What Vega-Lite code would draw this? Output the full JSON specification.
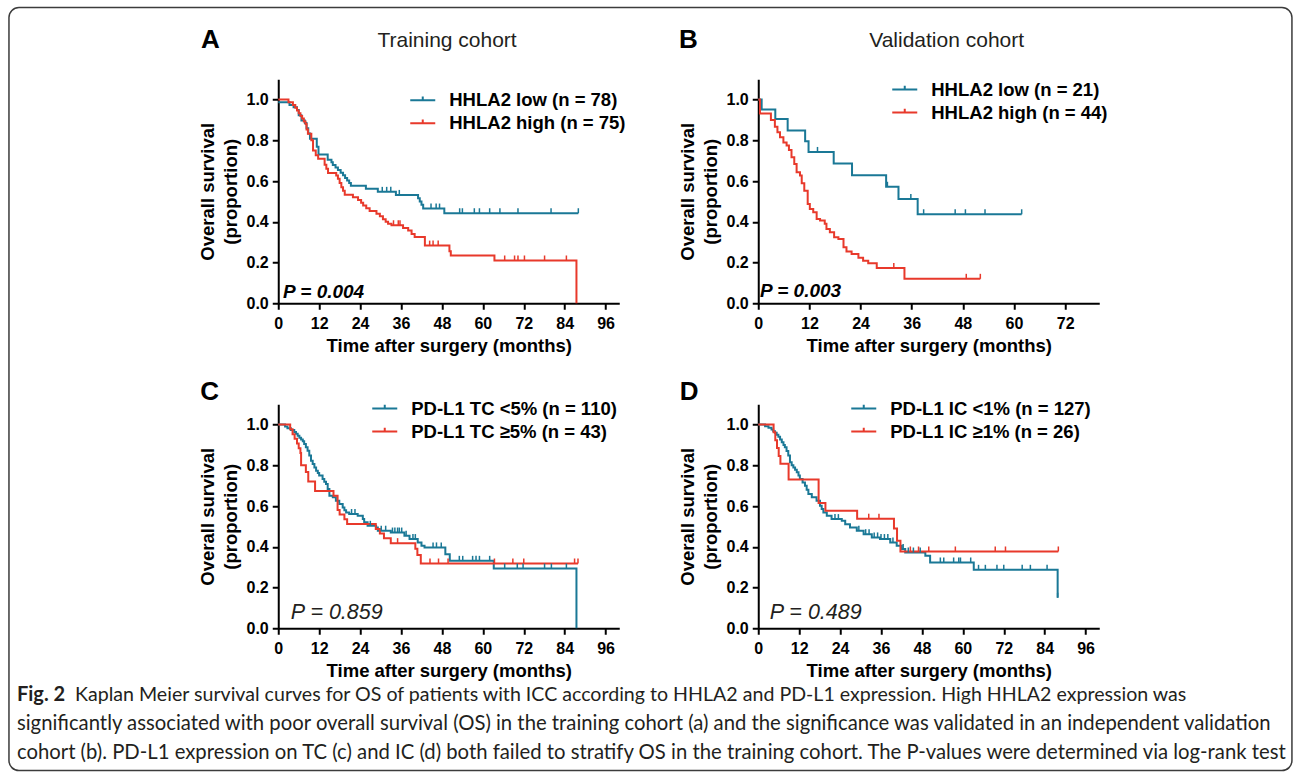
{
  "$schema": "https://vega.github.io/schema/vega-lite/v6.json",
  "background": "white",
  "padding": {"left": 7.25, "top": 6.25, "right": 6.25, "bottom": 7.25},
  "config": {
    "view": {"stroke": null},
    "font": "Liberation Sans",
    "axis": {
      "domainColor": "black", "domainWidth": 2, "tickColor": "black", "tickWidth": 2, "tickSize": 6,
      "labelFont": "Liberation Sans", "labelFontSize": 16, "labelFontWeight": "bold", "labelColor": "black",
      "labelFlush": false, "labelOverlap": false,
      "titleFont": "Liberation Sans", "titleFontSize": 18.5, "titleFontWeight": "bold", "titleColor": "black",
      "grid": false
    },
    "axisX": {"labelPadding": 6, "titlePadding": 5},
    "axisY": {"labelPadding": 4, "titlePadding": 6, "titleLineHeight": 23},
    "legend": {
      "padding": 0, "rowPadding": 0, "labelFont": "Liberation Sans", "labelFontSize": 18.5, "labelFontWeight": "bold",
      "labelColor": "black", "labelOffset": 13, "labelLimit": 600,
      "symbolType": "M-1,0H1M0,0V-0.3", "symbolSize": 625, "symbolStrokeWidth": 2, "symbolFillColor": "transparent"
    }
  },
  "datasets": {
    "A_curve": [
      {"g":"HHLA2 low (n = 78)","t":0,"s":0.987},{"g":"HHLA2 low (n = 78)","t":3.3,"s":0.974},{"g":"HHLA2 low (n = 78)","t":4.5,"s":0.962},{"g":"HHLA2 low (n = 78)","t":5.5,"s":0.949},{"g":"HHLA2 low (n = 78)","t":6.0,"s":0.923},{"g":"HHLA2 low (n = 78)","t":6.8,"s":0.897},{"g":"HHLA2 low (n = 78)","t":7.8,"s":0.885},{"g":"HHLA2 low (n = 78)","t":8.3,"s":0.859},{"g":"HHLA2 low (n = 78)","t":8.8,"s":0.833},{"g":"HHLA2 low (n = 78)","t":9.3,"s":0.808},{"g":"HHLA2 low (n = 78)","t":11.3,"s":0.769},{"g":"HHLA2 low (n = 78)","t":11.8,"s":0.731},{"g":"HHLA2 low (n = 78)","t":14.5,"s":0.705},{"g":"HHLA2 low (n = 78)","t":15.6,"s":0.692},{"g":"HHLA2 low (n = 78)","t":16.0,"s":0.679},{"g":"HHLA2 low (n = 78)","t":16.8,"s":0.667},{"g":"HHLA2 low (n = 78)","t":17.5,"s":0.654},{"g":"HHLA2 low (n = 78)","t":18.3,"s":0.641},{"g":"HHLA2 low (n = 78)","t":19.0,"s":0.628},{"g":"HHLA2 low (n = 78)","t":19.6,"s":0.615},{"g":"HHLA2 low (n = 78)","t":20.2,"s":0.603},{"g":"HHLA2 low (n = 78)","t":20.8,"s":0.59},{"g":"HHLA2 low (n = 78)","t":21.3,"s":0.577},{"g":"HHLA2 low (n = 78)","t":25.7,"s":0.562},{"g":"HHLA2 low (n = 78)","t":29.2,"s":0.547},{"g":"HHLA2 low (n = 78)","t":34.5,"s":0.532},{"g":"HHLA2 low (n = 78)","t":41.0,"s":0.516},{"g":"HHLA2 low (n = 78)","t":41.5,"s":0.5},{"g":"HHLA2 low (n = 78)","t":42.0,"s":0.484},{"g":"HHLA2 low (n = 78)","t":42.5,"s":0.465},{"g":"HHLA2 low (n = 78)","t":48.7,"s":0.442},{"g":"HHLA2 low (n = 78)","t":88.0,"s":0.442},
      {"g":"HHLA2 high (n = 75)","t":0,"s":1.0},{"g":"HHLA2 high (n = 75)","t":3.0,"s":0.987},{"g":"HHLA2 high (n = 75)","t":4.3,"s":0.973},{"g":"HHLA2 high (n = 75)","t":5.0,"s":0.96},{"g":"HHLA2 high (n = 75)","t":5.5,"s":0.947},{"g":"HHLA2 high (n = 75)","t":6.0,"s":0.933},{"g":"HHLA2 high (n = 75)","t":6.5,"s":0.92},{"g":"HHLA2 high (n = 75)","t":7.0,"s":0.907},{"g":"HHLA2 high (n = 75)","t":7.5,"s":0.893},{"g":"HHLA2 high (n = 75)","t":8.0,"s":0.88},{"g":"HHLA2 high (n = 75)","t":8.3,"s":0.853},{"g":"HHLA2 high (n = 75)","t":8.7,"s":0.832},{"g":"HHLA2 high (n = 75)","t":9.7,"s":0.8},{"g":"HHLA2 high (n = 75)","t":10.2,"s":0.75},{"g":"HHLA2 high (n = 75)","t":11.0,"s":0.727},{"g":"HHLA2 high (n = 75)","t":11.7,"s":0.709},{"g":"HHLA2 high (n = 75)","t":13.6,"s":0.68},{"g":"HHLA2 high (n = 75)","t":14.1,"s":0.66},{"g":"HHLA2 high (n = 75)","t":14.6,"s":0.64},{"g":"HHLA2 high (n = 75)","t":17.0,"s":0.627},{"g":"HHLA2 high (n = 75)","t":17.5,"s":0.611},{"g":"HHLA2 high (n = 75)","t":18.0,"s":0.59},{"g":"HHLA2 high (n = 75)","t":18.5,"s":0.57},{"g":"HHLA2 high (n = 75)","t":19.0,"s":0.553},{"g":"HHLA2 high (n = 75)","t":19.5,"s":0.533},{"g":"HHLA2 high (n = 75)","t":21.9,"s":0.52},{"g":"HHLA2 high (n = 75)","t":23.4,"s":0.507},{"g":"HHLA2 high (n = 75)","t":24.3,"s":0.493},{"g":"HHLA2 high (n = 75)","t":24.9,"s":0.48},{"g":"HHLA2 high (n = 75)","t":25.8,"s":0.467},{"g":"HHLA2 high (n = 75)","t":26.8,"s":0.453},{"g":"HHLA2 high (n = 75)","t":28.8,"s":0.44},{"g":"HHLA2 high (n = 75)","t":29.8,"s":0.427},{"g":"HHLA2 high (n = 75)","t":30.7,"s":0.413},{"g":"HHLA2 high (n = 75)","t":31.5,"s":0.4},{"g":"HHLA2 high (n = 75)","t":32.2,"s":0.39},{"g":"HHLA2 high (n = 75)","t":33.2,"s":0.383},{"g":"HHLA2 high (n = 75)","t":36.6,"s":0.37},{"g":"HHLA2 high (n = 75)","t":38.1,"s":0.357},{"g":"HHLA2 high (n = 75)","t":39.1,"s":0.34},{"g":"HHLA2 high (n = 75)","t":40.0,"s":0.325},{"g":"HHLA2 high (n = 75)","t":43.0,"s":0.283},{"g":"HHLA2 high (n = 75)","t":50.2,"s":0.255},{"g":"HHLA2 high (n = 75)","t":50.6,"s":0.234},{"g":"HHLA2 high (n = 75)","t":63.4,"s":0.21},{"g":"HHLA2 high (n = 75)","t":87.4,"s":0.21},{"g":"HHLA2 high (n = 75)","t":87.45,"s":0}
    ],
    "A_cens": [
      {"g":"HHLA2 low (n = 78)","t":30.5,"s":0.547},{"g":"HHLA2 low (n = 78)","t":31.8,"s":0.547},{"g":"HHLA2 low (n = 78)","t":33.0,"s":0.547},{"g":"HHLA2 low (n = 78)","t":35.5,"s":0.532},{"g":"HHLA2 low (n = 78)","t":44.8,"s":0.465},{"g":"HHLA2 low (n = 78)","t":46.3,"s":0.465},{"g":"HHLA2 low (n = 78)","t":47.3,"s":0.465},{"g":"HHLA2 low (n = 78)","t":53.2,"s":0.442},{"g":"HHLA2 low (n = 78)","t":54.0,"s":0.442},{"g":"HHLA2 low (n = 78)","t":57.5,"s":0.442},{"g":"HHLA2 low (n = 78)","t":59.0,"s":0.442},{"g":"HHLA2 low (n = 78)","t":62.0,"s":0.442},{"g":"HHLA2 low (n = 78)","t":65.0,"s":0.442},{"g":"HHLA2 low (n = 78)","t":70.3,"s":0.442},{"g":"HHLA2 low (n = 78)","t":80.0,"s":0.442},{"g":"HHLA2 low (n = 78)","t":88.0,"s":0.442},
      {"g":"HHLA2 high (n = 75)","t":33.8,"s":0.383},{"g":"HHLA2 high (n = 75)","t":35.2,"s":0.383},{"g":"HHLA2 high (n = 75)","t":35.7,"s":0.383},{"g":"HHLA2 high (n = 75)","t":44.4,"s":0.283},{"g":"HHLA2 high (n = 75)","t":45.4,"s":0.283},{"g":"HHLA2 high (n = 75)","t":46.9,"s":0.283},{"g":"HHLA2 high (n = 75)","t":66.4,"s":0.21},{"g":"HHLA2 high (n = 75)","t":69.3,"s":0.21},{"g":"HHLA2 high (n = 75)","t":70.3,"s":0.21},{"g":"HHLA2 high (n = 75)","t":72.2,"s":0.21},{"g":"HHLA2 high (n = 75)","t":78.1,"s":0.21},{"g":"HHLA2 high (n = 75)","t":84.5,"s":0.21}
    ],
    "B_curve": [
      {"g":"HHLA2 low (n = 21)","t":0,"s":1.0},{"g":"HHLA2 low (n = 21)","t":0.8,"s":0.952},{"g":"HHLA2 low (n = 21)","t":4.0,"s":0.905},{"g":"HHLA2 low (n = 21)","t":6.9,"s":0.848},{"g":"HHLA2 low (n = 21)","t":11.0,"s":0.795},{"g":"HHLA2 low (n = 21)","t":11.8,"s":0.743},{"g":"HHLA2 low (n = 21)","t":17.7,"s":0.686},{"g":"HHLA2 low (n = 21)","t":22.0,"s":0.628},{"g":"HHLA2 low (n = 21)","t":30.0,"s":0.572},{"g":"HHLA2 low (n = 21)","t":32.9,"s":0.512},{"g":"HHLA2 low (n = 21)","t":37.4,"s":0.437},{"g":"HHLA2 low (n = 21)","t":61.8,"s":0.437},
      {"g":"HHLA2 high (n = 44)","t":0,"s":1.0},{"g":"HHLA2 high (n = 44)","t":0.4,"s":0.932},{"g":"HHLA2 high (n = 44)","t":2.97,"s":0.9},{"g":"HHLA2 high (n = 44)","t":3.9,"s":0.867},{"g":"HHLA2 high (n = 44)","t":4.5,"s":0.84},{"g":"HHLA2 high (n = 44)","t":5.1,"s":0.815},{"g":"HHLA2 high (n = 44)","t":5.9,"s":0.79},{"g":"HHLA2 high (n = 44)","t":6.65,"s":0.775},{"g":"HHLA2 high (n = 44)","t":7.2,"s":0.753},{"g":"HHLA2 high (n = 44)","t":7.8,"s":0.717},{"g":"HHLA2 high (n = 44)","t":8.45,"s":0.684},{"g":"HHLA2 high (n = 44)","t":9.0,"s":0.643},{"g":"HHLA2 high (n = 44)","t":9.8,"s":0.627},{"g":"HHLA2 high (n = 44)","t":10.2,"s":0.589},{"g":"HHLA2 high (n = 44)","t":10.8,"s":0.553},{"g":"HHLA2 high (n = 44)","t":11.6,"s":0.488},{"g":"HHLA2 high (n = 44)","t":12.1,"s":0.463},{"g":"HHLA2 high (n = 44)","t":12.9,"s":0.447},{"g":"HHLA2 high (n = 44)","t":13.7,"s":0.414},{"g":"HHLA2 high (n = 44)","t":14.5,"s":0.406},{"g":"HHLA2 high (n = 44)","t":15.6,"s":0.39},{"g":"HHLA2 high (n = 44)","t":16.0,"s":0.365},{"g":"HHLA2 high (n = 44)","t":16.8,"s":0.349},{"g":"HHLA2 high (n = 44)","t":17.8,"s":0.324},{"g":"HHLA2 high (n = 44)","t":18.8,"s":0.316},{"g":"HHLA2 high (n = 44)","t":20.0,"s":0.275},{"g":"HHLA2 high (n = 44)","t":20.7,"s":0.254},{"g":"HHLA2 high (n = 44)","t":21.9,"s":0.242},{"g":"HHLA2 high (n = 44)","t":23.5,"s":0.223},{"g":"HHLA2 high (n = 44)","t":24.6,"s":0.209},{"g":"HHLA2 high (n = 44)","t":25.8,"s":0.196},{"g":"HHLA2 high (n = 44)","t":27.8,"s":0.173},{"g":"HHLA2 high (n = 44)","t":34.3,"s":0.12},{"g":"HHLA2 high (n = 44)","t":52.1,"s":0.12}
    ],
    "B_cens": [
      {"g":"HHLA2 low (n = 21)","t":13.9,"s":0.743},{"g":"HHLA2 low (n = 21)","t":30.3,"s":0.572},{"g":"HHLA2 low (n = 21)","t":35.8,"s":0.512},{"g":"HHLA2 low (n = 21)","t":38.8,"s":0.437},{"g":"HHLA2 low (n = 21)","t":46.2,"s":0.437},{"g":"HHLA2 low (n = 21)","t":48.6,"s":0.437},{"g":"HHLA2 low (n = 21)","t":53.2,"s":0.437},{"g":"HHLA2 low (n = 21)","t":61.8,"s":0.437},
      {"g":"HHLA2 high (n = 44)","t":31.8,"s":0.173},{"g":"HHLA2 high (n = 44)","t":48.8,"s":0.12},{"g":"HHLA2 high (n = 44)","t":52.1,"s":0.12}
    ],
    "C_curve": [
      {"g":"PD-L1 TC <5% (n = 110)","t":0,"s":1.0},{"g":"PD-L1 TC <5% (n = 110)","t":2.0,"s":0.991},{"g":"PD-L1 TC <5% (n = 110)","t":2.7,"s":0.982},{"g":"PD-L1 TC <5% (n = 110)","t":3.7,"s":0.973},{"g":"PD-L1 TC <5% (n = 110)","t":4.7,"s":0.964},{"g":"PD-L1 TC <5% (n = 110)","t":5.2,"s":0.955},{"g":"PD-L1 TC <5% (n = 110)","t":5.7,"s":0.945},{"g":"PD-L1 TC <5% (n = 110)","t":6.2,"s":0.936},{"g":"PD-L1 TC <5% (n = 110)","t":6.7,"s":0.927},{"g":"PD-L1 TC <5% (n = 110)","t":7.2,"s":0.918},{"g":"PD-L1 TC <5% (n = 110)","t":7.6,"s":0.905},{"g":"PD-L1 TC <5% (n = 110)","t":8.1,"s":0.889},{"g":"PD-L1 TC <5% (n = 110)","t":8.6,"s":0.872},{"g":"PD-L1 TC <5% (n = 110)","t":9.1,"s":0.848},{"g":"PD-L1 TC <5% (n = 110)","t":9.6,"s":0.823},{"g":"PD-L1 TC <5% (n = 110)","t":10.1,"s":0.807},{"g":"PD-L1 TC <5% (n = 110)","t":10.6,"s":0.79},{"g":"PD-L1 TC <5% (n = 110)","t":11.1,"s":0.774},{"g":"PD-L1 TC <5% (n = 110)","t":11.6,"s":0.762},{"g":"PD-L1 TC <5% (n = 110)","t":12.0,"s":0.75},{"g":"PD-L1 TC <5% (n = 110)","t":13.0,"s":0.733},{"g":"PD-L1 TC <5% (n = 110)","t":13.5,"s":0.72},{"g":"PD-L1 TC <5% (n = 110)","t":14.0,"s":0.708},{"g":"PD-L1 TC <5% (n = 110)","t":14.5,"s":0.684},{"g":"PD-L1 TC <5% (n = 110)","t":15.0,"s":0.651},{"g":"PD-L1 TC <5% (n = 110)","t":16.0,"s":0.643},{"g":"PD-L1 TC <5% (n = 110)","t":16.9,"s":0.626},{"g":"PD-L1 TC <5% (n = 110)","t":17.9,"s":0.61},{"g":"PD-L1 TC <5% (n = 110)","t":18.9,"s":0.593},{"g":"PD-L1 TC <5% (n = 110)","t":19.4,"s":0.58},{"g":"PD-L1 TC <5% (n = 110)","t":19.9,"s":0.569},{"g":"PD-L1 TC <5% (n = 110)","t":20.8,"s":0.561},{"g":"PD-L1 TC <5% (n = 110)","t":23.3,"s":0.552},{"g":"PD-L1 TC <5% (n = 110)","t":24.8,"s":0.536},{"g":"PD-L1 TC <5% (n = 110)","t":25.2,"s":0.52},{"g":"PD-L1 TC <5% (n = 110)","t":26.2,"s":0.503},{"g":"PD-L1 TC <5% (n = 110)","t":28.7,"s":0.495},{"g":"PD-L1 TC <5% (n = 110)","t":29.2,"s":0.479},{"g":"PD-L1 TC <5% (n = 110)","t":33.0,"s":0.47},{"g":"PD-L1 TC <5% (n = 110)","t":37.0,"s":0.454},{"g":"PD-L1 TC <5% (n = 110)","t":38.5,"s":0.438},{"g":"PD-L1 TC <5% (n = 110)","t":40.9,"s":0.421},{"g":"PD-L1 TC <5% (n = 110)","t":42.0,"s":0.405},{"g":"PD-L1 TC <5% (n = 110)","t":42.9,"s":0.397},{"g":"PD-L1 TC <5% (n = 110)","t":49.0,"s":0.364},{"g":"PD-L1 TC <5% (n = 110)","t":50.3,"s":0.331},{"g":"PD-L1 TC <5% (n = 110)","t":63.2,"s":0.293},{"g":"PD-L1 TC <5% (n = 110)","t":87.4,"s":0.293},{"g":"PD-L1 TC <5% (n = 110)","t":87.45,"s":0},
      {"g":"PD-L1 TC ≥5% (n = 43)","t":0,"s":1.0},{"g":"PD-L1 TC ≥5% (n = 43)","t":3.5,"s":0.977},{"g":"PD-L1 TC ≥5% (n = 43)","t":4.2,"s":0.953},{"g":"PD-L1 TC ≥5% (n = 43)","t":4.8,"s":0.93},{"g":"PD-L1 TC ≥5% (n = 43)","t":5.5,"s":0.907},{"g":"PD-L1 TC ≥5% (n = 43)","t":6.0,"s":0.884},{"g":"PD-L1 TC ≥5% (n = 43)","t":6.5,"s":0.86},{"g":"PD-L1 TC ≥5% (n = 43)","t":6.7,"s":0.8},{"g":"PD-L1 TC ≥5% (n = 43)","t":8.1,"s":0.767},{"g":"PD-L1 TC ≥5% (n = 43)","t":8.8,"s":0.721},{"g":"PD-L1 TC ≥5% (n = 43)","t":10.8,"s":0.674},{"g":"PD-L1 TC ≥5% (n = 43)","t":16.2,"s":0.651},{"g":"PD-L1 TC ≥5% (n = 43)","t":17.4,"s":0.581},{"g":"PD-L1 TC ≥5% (n = 43)","t":18.0,"s":0.558},{"g":"PD-L1 TC ≥5% (n = 43)","t":19.4,"s":0.535},{"g":"PD-L1 TC ≥5% (n = 43)","t":20.2,"s":0.512},{"g":"PD-L1 TC ≥5% (n = 43)","t":28.6,"s":0.488},{"g":"PD-L1 TC ≥5% (n = 43)","t":29.8,"s":0.465},{"g":"PD-L1 TC ≥5% (n = 43)","t":31.0,"s":0.442},{"g":"PD-L1 TC ≥5% (n = 43)","t":33.0,"s":0.418},{"g":"PD-L1 TC ≥5% (n = 43)","t":40.2,"s":0.39},{"g":"PD-L1 TC ≥5% (n = 43)","t":40.8,"s":0.36},{"g":"PD-L1 TC ≥5% (n = 43)","t":41.8,"s":0.318},{"g":"PD-L1 TC ≥5% (n = 43)","t":87.9,"s":0.318}
    ],
    "C_cens": [
      {"g":"PD-L1 TC <5% (n = 110)","t":21.5,"s":0.561},{"g":"PD-L1 TC <5% (n = 110)","t":22.5,"s":0.561},{"g":"PD-L1 TC <5% (n = 110)","t":27.0,"s":0.503},{"g":"PD-L1 TC <5% (n = 110)","t":30.2,"s":0.479},{"g":"PD-L1 TC <5% (n = 110)","t":31.5,"s":0.479},{"g":"PD-L1 TC <5% (n = 110)","t":33.5,"s":0.47},{"g":"PD-L1 TC <5% (n = 110)","t":34.2,"s":0.47},{"g":"PD-L1 TC <5% (n = 110)","t":35.0,"s":0.47},{"g":"PD-L1 TC <5% (n = 110)","t":35.5,"s":0.47},{"g":"PD-L1 TC <5% (n = 110)","t":36.2,"s":0.47},{"g":"PD-L1 TC <5% (n = 110)","t":37.5,"s":0.454},{"g":"PD-L1 TC <5% (n = 110)","t":39.5,"s":0.438},{"g":"PD-L1 TC <5% (n = 110)","t":40.2,"s":0.438},{"g":"PD-L1 TC <5% (n = 110)","t":45.4,"s":0.397},{"g":"PD-L1 TC <5% (n = 110)","t":46.4,"s":0.397},{"g":"PD-L1 TC <5% (n = 110)","t":47.8,"s":0.397},{"g":"PD-L1 TC <5% (n = 110)","t":53.1,"s":0.331},{"g":"PD-L1 TC <5% (n = 110)","t":54.1,"s":0.331},{"g":"PD-L1 TC <5% (n = 110)","t":57.0,"s":0.331},{"g":"PD-L1 TC <5% (n = 110)","t":58.0,"s":0.331},{"g":"PD-L1 TC <5% (n = 110)","t":59.0,"s":0.331},{"g":"PD-L1 TC <5% (n = 110)","t":62.0,"s":0.331},{"g":"PD-L1 TC <5% (n = 110)","t":66.4,"s":0.293},{"g":"PD-L1 TC <5% (n = 110)","t":70.1,"s":0.293},{"g":"PD-L1 TC <5% (n = 110)","t":71.8,"s":0.293},{"g":"PD-L1 TC <5% (n = 110)","t":78.1,"s":0.293},{"g":"PD-L1 TC <5% (n = 110)","t":80.1,"s":0.293},{"g":"PD-L1 TC <5% (n = 110)","t":84.5,"s":0.293},
      {"g":"PD-L1 TC ≥5% (n = 43)","t":35.0,"s":0.418},{"g":"PD-L1 TC ≥5% (n = 43)","t":44.5,"s":0.318},{"g":"PD-L1 TC ≥5% (n = 43)","t":47.0,"s":0.318},{"g":"PD-L1 TC ≥5% (n = 43)","t":49.8,"s":0.318},{"g":"PD-L1 TC ≥5% (n = 43)","t":63.4,"s":0.318},{"g":"PD-L1 TC ≥5% (n = 43)","t":68.8,"s":0.318},{"g":"PD-L1 TC ≥5% (n = 43)","t":72.0,"s":0.318},{"g":"PD-L1 TC ≥5% (n = 43)","t":86.9,"s":0.318},{"g":"PD-L1 TC ≥5% (n = 43)","t":87.9,"s":0.318}
    ],
    "D_curve": [
      {"g":"PD-L1 IC <1% (n = 127)","t":0,"s":1.0},{"g":"PD-L1 IC <1% (n = 127)","t":2.0,"s":0.992},{"g":"PD-L1 IC <1% (n = 127)","t":3.0,"s":0.984},{"g":"PD-L1 IC <1% (n = 127)","t":3.9,"s":0.976},{"g":"PD-L1 IC <1% (n = 127)","t":4.4,"s":0.968},{"g":"PD-L1 IC <1% (n = 127)","t":4.9,"s":0.96},{"g":"PD-L1 IC <1% (n = 127)","t":5.4,"s":0.95},{"g":"PD-L1 IC <1% (n = 127)","t":5.9,"s":0.94},{"g":"PD-L1 IC <1% (n = 127)","t":6.4,"s":0.927},{"g":"PD-L1 IC <1% (n = 127)","t":6.9,"s":0.913},{"g":"PD-L1 IC <1% (n = 127)","t":7.4,"s":0.9},{"g":"PD-L1 IC <1% (n = 127)","t":7.8,"s":0.889},{"g":"PD-L1 IC <1% (n = 127)","t":8.3,"s":0.87},{"g":"PD-L1 IC <1% (n = 127)","t":8.8,"s":0.848},{"g":"PD-L1 IC <1% (n = 127)","t":9.3,"s":0.815},{"g":"PD-L1 IC <1% (n = 127)","t":9.8,"s":0.8},{"g":"PD-L1 IC <1% (n = 127)","t":10.3,"s":0.79},{"g":"PD-L1 IC <1% (n = 127)","t":10.8,"s":0.778},{"g":"PD-L1 IC <1% (n = 127)","t":11.3,"s":0.766},{"g":"PD-L1 IC <1% (n = 127)","t":11.8,"s":0.75},{"g":"PD-L1 IC <1% (n = 127)","t":12.2,"s":0.733},{"g":"PD-L1 IC <1% (n = 127)","t":13.0,"s":0.716},{"g":"PD-L1 IC <1% (n = 127)","t":13.7,"s":0.7},{"g":"PD-L1 IC <1% (n = 127)","t":14.2,"s":0.68},{"g":"PD-L1 IC <1% (n = 127)","t":14.7,"s":0.659},{"g":"PD-L1 IC <1% (n = 127)","t":15.7,"s":0.643},{"g":"PD-L1 IC <1% (n = 127)","t":17.1,"s":0.626},{"g":"PD-L1 IC <1% (n = 127)","t":18.1,"s":0.602},{"g":"PD-L1 IC <1% (n = 127)","t":18.6,"s":0.585},{"g":"PD-L1 IC <1% (n = 127)","t":19.1,"s":0.569},{"g":"PD-L1 IC <1% (n = 127)","t":20.1,"s":0.552},{"g":"PD-L1 IC <1% (n = 127)","t":21.5,"s":0.536},{"g":"PD-L1 IC <1% (n = 127)","t":24.5,"s":0.528},{"g":"PD-L1 IC <1% (n = 127)","t":25.5,"s":0.511},{"g":"PD-L1 IC <1% (n = 127)","t":26.9,"s":0.495},{"g":"PD-L1 IC <1% (n = 127)","t":28.9,"s":0.479},{"g":"PD-L1 IC <1% (n = 127)","t":30.9,"s":0.462},{"g":"PD-L1 IC <1% (n = 127)","t":33.3,"s":0.446},{"g":"PD-L1 IC <1% (n = 127)","t":35.7,"s":0.438},{"g":"PD-L1 IC <1% (n = 127)","t":38.7,"s":0.421},{"g":"PD-L1 IC <1% (n = 127)","t":40.6,"s":0.405},{"g":"PD-L1 IC <1% (n = 127)","t":42.1,"s":0.389},{"g":"PD-L1 IC <1% (n = 127)","t":43.1,"s":0.372},{"g":"PD-L1 IC <1% (n = 127)","t":49.0,"s":0.356},{"g":"PD-L1 IC <1% (n = 127)","t":50.4,"s":0.323},{"g":"PD-L1 IC <1% (n = 127)","t":63.2,"s":0.287},{"g":"PD-L1 IC <1% (n = 127)","t":87.7,"s":0.287},{"g":"PD-L1 IC <1% (n = 127)","t":87.8,"s":0.15},
      {"g":"PD-L1 IC ≥1% (n = 26)","t":0,"s":1.0},{"g":"PD-L1 IC ≥1% (n = 26)","t":4.5,"s":0.962},{"g":"PD-L1 IC ≥1% (n = 26)","t":5.0,"s":0.923},{"g":"PD-L1 IC ≥1% (n = 26)","t":5.5,"s":0.885},{"g":"PD-L1 IC ≥1% (n = 26)","t":6.0,"s":0.846},{"g":"PD-L1 IC ≥1% (n = 26)","t":6.5,"s":0.808},{"g":"PD-L1 IC ≥1% (n = 26)","t":8.9,"s":0.731},{"g":"PD-L1 IC ≥1% (n = 26)","t":17.7,"s":0.615},{"g":"PD-L1 IC ≥1% (n = 26)","t":19.7,"s":0.577},{"g":"PD-L1 IC ≥1% (n = 26)","t":29.0,"s":0.538},{"g":"PD-L1 IC ≥1% (n = 26)","t":39.8,"s":0.49},{"g":"PD-L1 IC ≥1% (n = 26)","t":40.7,"s":0.43},{"g":"PD-L1 IC ≥1% (n = 26)","t":41.7,"s":0.377},{"g":"PD-L1 IC ≥1% (n = 26)","t":88.0,"s":0.377}
    ],
    "D_cens": [
      {"g":"PD-L1 IC <1% (n = 127)","t":22.5,"s":0.536},{"g":"PD-L1 IC <1% (n = 127)","t":23.5,"s":0.536},{"g":"PD-L1 IC <1% (n = 127)","t":29.5,"s":0.479},{"g":"PD-L1 IC <1% (n = 127)","t":31.5,"s":0.462},{"g":"PD-L1 IC <1% (n = 127)","t":32.5,"s":0.462},{"g":"PD-L1 IC <1% (n = 127)","t":34.0,"s":0.446},{"g":"PD-L1 IC <1% (n = 127)","t":35.0,"s":0.446},{"g":"PD-L1 IC <1% (n = 127)","t":36.0,"s":0.438},{"g":"PD-L1 IC <1% (n = 127)","t":37.0,"s":0.438},{"g":"PD-L1 IC <1% (n = 127)","t":38.0,"s":0.438},{"g":"PD-L1 IC <1% (n = 127)","t":39.5,"s":0.421},{"g":"PD-L1 IC <1% (n = 127)","t":42.5,"s":0.389},{"g":"PD-L1 IC <1% (n = 127)","t":44.0,"s":0.372},{"g":"PD-L1 IC <1% (n = 127)","t":45.5,"s":0.372},{"g":"PD-L1 IC <1% (n = 127)","t":47.5,"s":0.372},{"g":"PD-L1 IC <1% (n = 127)","t":53.4,"s":0.323},{"g":"PD-L1 IC <1% (n = 127)","t":54.4,"s":0.323},{"g":"PD-L1 IC <1% (n = 127)","t":57.3,"s":0.323},{"g":"PD-L1 IC <1% (n = 127)","t":58.8,"s":0.323},{"g":"PD-L1 IC <1% (n = 127)","t":59.3,"s":0.323},{"g":"PD-L1 IC <1% (n = 127)","t":62.3,"s":0.323},{"g":"PD-L1 IC <1% (n = 127)","t":64.6,"s":0.287},{"g":"PD-L1 IC <1% (n = 127)","t":66.6,"s":0.287},{"g":"PD-L1 IC <1% (n = 127)","t":70.0,"s":0.287},{"g":"PD-L1 IC <1% (n = 127)","t":72.0,"s":0.287},{"g":"PD-L1 IC <1% (n = 127)","t":77.4,"s":0.287},{"g":"PD-L1 IC <1% (n = 127)","t":79.8,"s":0.287},{"g":"PD-L1 IC <1% (n = 127)","t":84.7,"s":0.287},{"g":"PD-L1 IC <1% (n = 127)","t":87.8,"s":0.15},
      {"g":"PD-L1 IC ≥1% (n = 26)","t":32.4,"s":0.538},{"g":"PD-L1 IC ≥1% (n = 26)","t":35.4,"s":0.538},{"g":"PD-L1 IC ≥1% (n = 26)","t":44.6,"s":0.377},{"g":"PD-L1 IC ≥1% (n = 26)","t":47.0,"s":0.377},{"g":"PD-L1 IC ≥1% (n = 26)","t":50.0,"s":0.377},{"g":"PD-L1 IC ≥1% (n = 26)","t":57.8,"s":0.377},{"g":"PD-L1 IC ≥1% (n = 26)","t":69.5,"s":0.377},{"g":"PD-L1 IC ≥1% (n = 26)","t":72.5,"s":0.377},{"g":"PD-L1 IC ≥1% (n = 26)","t":88.0,"s":0.377}
    ]
  },
  "concat": [
    {
      "width": 341, "height": 224,
      "layer": [
        {
          "data": {"values": [{}]},
          "mark": {"type": "rect", "filled": false, "color": "#3c3c3c", "strokeWidth": 1.5, "cornerRadius": 10},
          "encoding": {"x": {"datum": -78.97}, "x2": {"datum": 297.27}, "y": {"datum": 1.4521}, "y2": {"datum": -2.2947}}
        },
        {
          "data": {"name": "A_curve"},
          "mark": {"type": "line", "interpolate": "step-after", "strokeWidth": 2},
          "encoding": {
            "x": {"field": "t", "type": "quantitative", "scale": {"domain": [0, 100], "nice": false, "zero": false}, "axis": {"values": [0,12,24,36,48,60,72,84,96], "title": "Time after surgery (months)"}},
            "y": {"field": "s", "type": "quantitative", "scale": {"domain": [0, 1.1], "nice": false}, "axis": {"values": [0,0.2,0.4,0.6,0.8,1], "format": ".1f", "title": ["Overall survival", "(proportion)"]}},
            "color": {"field": "g", "type": "nominal", "scale": {"domain": ["HHLA2 low (n = 78)", "HHLA2 high (n = 75)"], "range": ["#1a7896", "#e8392b"]}, "legend": {"title": null, "orient": "none", "legendX": 131, "legendY": 7.5}}
          }
        },
        {
          "data": {"name": "A_cens"},
          "mark": {"type": "point", "shape": "M0,0V-1", "size": 100, "filled": false, "strokeWidth": 1.5, "opacity": 1},
          "encoding": {"x": {"field": "t", "type": "quantitative"}, "y": {"field": "s", "type": "quantitative"}, "color": {"field": "g", "type": "nominal"}}
        },
        {
          "data": {"values": [{}]},
          "mark": {"type": "text", "align": "left", "baseline": "alphabetic", "fontSize": 19, "fontWeight": "bold", "fontStyle": "italic", "color": "black"},
          "encoding": {"x": {"datum": 1.4}, "y": {"datum": 0.028}, "text": {"value": "P = 0.004"}}
        },
        {
          "data": {"values": [{}]},
          "mark": {"type": "text", "align": "center", "baseline": "alphabetic", "fontSize": 26, "fontWeight": "bold", "color": "black"},
          "encoding": {"x": {"datum": -19.9}, "y": {"datum": 1.252}, "text": {"value": "A"}}
        },
        {
          "data": {"values": [{}]},
          "mark": {"type": "text", "align": "center", "baseline": "alphabetic", "fontSize": 21, "color": "#231f20"},
          "encoding": {"x": {"datum": 49.5}, "y": {"datum": 1.257}, "text": {"value": "Training cohort"}}
        }
      ]
    },
    {
      "width": 341, "height": 224,
      "layer": [
        {
          "data": {"name": "B_curve"},
          "mark": {"type": "line", "interpolate": "step-after", "strokeWidth": 2},
          "encoding": {
            "x": {"field": "t", "type": "quantitative", "scale": {"domain": [0, 80], "nice": false, "zero": false}, "axis": {"values": [0,12,24,36,48,60,72], "title": "Time after surgery (months)"}},
            "y": {"field": "s", "type": "quantitative", "scale": {"domain": [0, 1.1], "nice": false}, "axis": {"values": [0,0.2,0.4,0.6,0.8,1], "format": ".1f", "title": ["Overall survival", "(proportion)"]}},
            "color": {"field": "g", "type": "nominal", "scale": {"domain": ["HHLA2 low (n = 21)", "HHLA2 high (n = 44)"], "range": ["#1a7896", "#e8392b"]}, "legend": {"title": null, "orient": "none", "legendX": 133, "legendY": -3.2}}
          }
        },
        {
          "data": {"name": "B_cens"},
          "mark": {"type": "point", "shape": "M0,0V-1", "size": 100, "filled": false, "strokeWidth": 1.5, "opacity": 1},
          "encoding": {"x": {"field": "t", "type": "quantitative"}, "y": {"field": "s", "type": "quantitative"}, "color": {"field": "g", "type": "nominal"}}
        },
        {
          "data": {"values": [{}]},
          "mark": {"type": "text", "align": "left", "baseline": "alphabetic", "fontSize": 19, "fontWeight": "bold", "fontStyle": "italic", "color": "black"},
          "encoding": {"x": {"datum": 0.4}, "y": {"datum": 0.03}, "text": {"value": "P = 0.003"}}
        },
        {
          "data": {"values": [{}]},
          "mark": {"type": "text", "align": "center", "baseline": "alphabetic", "fontSize": 26, "fontWeight": "bold", "color": "black"},
          "encoding": {"x": {"datum": -16.4}, "y": {"datum": 1.252}, "text": {"value": "B"}}
        },
        {
          "data": {"values": [{}]},
          "mark": {"type": "text", "align": "center", "baseline": "alphabetic", "fontSize": 21, "color": "#231f20"},
          "encoding": {"x": {"datum": 44.2}, "y": {"datum": 1.257}, "text": {"value": "Validation cohort"}}
        }
      ]
    },
    {
      "width": 341, "height": 224,
      "layer": [
        {
          "data": {"name": "C_curve"},
          "mark": {"type": "line", "interpolate": "step-after", "strokeWidth": 2},
          "encoding": {
            "x": {"field": "t", "type": "quantitative", "scale": {"domain": [0, 100], "nice": false, "zero": false}, "axis": {"values": [0,12,24,36,48,60,72,84,96], "title": "Time after surgery (months)"}},
            "y": {"field": "s", "type": "quantitative", "scale": {"domain": [0, 1.1], "nice": false}, "axis": {"values": [0,0.2,0.4,0.6,0.8,1], "format": ".1f", "title": ["Overall survival", "(proportion)"]}},
            "color": {"field": "g", "type": "nominal", "scale": {"domain": ["PD-L1 TC <5% (n = 110)", "PD-L1 TC ≥5% (n = 43)"], "range": ["#1a7896", "#e8392b"]}, "legend": {"title": null, "orient": "none", "legendX": 93, "legendY": -9.2}}
          }
        },
        {
          "data": {"name": "C_cens"},
          "mark": {"type": "point", "shape": "M0,0V-1", "size": 100, "filled": false, "strokeWidth": 1.5, "opacity": 1},
          "encoding": {"x": {"field": "t", "type": "quantitative"}, "y": {"field": "s", "type": "quantitative"}, "color": {"field": "g", "type": "nominal"}}
        },
        {
          "data": {"values": [{}]},
          "mark": {"type": "text", "align": "left", "baseline": "alphabetic", "fontSize": 21.5, "fontStyle": "italic", "color": "#231f20"},
          "encoding": {"x": {"datum": 3.7}, "y": {"datum": 0.044}, "text": {"value": "P = 0.859"}}
        },
        {
          "data": {"values": [{}]},
          "mark": {"type": "text", "align": "center", "baseline": "alphabetic", "fontSize": 26, "fontWeight": "bold", "color": "black"},
          "encoding": {"x": {"datum": -20.1}, "y": {"datum": 1.12}, "text": {"value": "C"}}
        },
        {
          "data": {"values": [{}]},
          "mark": {"type": "text", "align": "left", "baseline": "middle", "font": "Lato", "fontSize": 20, "fontWeight": "bold", "color": "#231f20"},
          "encoding": {"x": {"datum": -76.63}, "y": {"datum": -0.3256}, "text": {"value": "Fig. 2"}}
        },
        {
          "data": {"values": [{}]},
          "mark": {"type": "text", "align": "left", "baseline": "middle", "font": "Lato", "fontSize": 19.6, "color": "#231f20"},
          "encoding": {"x": {"datum": -59.6}, "y": {"datum": -0.3256}, "text": {"value": "Kaplan Meier survival curves for OS of patients with ICC according to HHLA2 and PD-L1 expression. High HHLA2 expression was"}}
        },
        {
          "data": {"values": [{}]},
          "mark": {"type": "text", "align": "left", "baseline": "middle", "font": "Lato", "fontSize": 20.3, "color": "#231f20"},
          "encoding": {"x": {"datum": -76.63}, "y": {"datum": -0.468}, "text": {"value": "significantly associated with poor overall survival (OS) in the training cohort (a) and the significance was validated in an independent validation"}}
        },
        {
          "data": {"values": [{}]},
          "mark": {"type": "text", "align": "left", "baseline": "middle", "font": "Lato", "fontSize": 20.3, "color": "#231f20"},
          "encoding": {"x": {"datum": -76.63}, "y": {"datum": -0.6105}, "text": {"value": "cohort (b). PD-L1 expression on TC (c) and IC (d) both failed to stratify OS in the training cohort. The P-values were determined via log-rank test"}}
        }
      ]
    },
    {
      "width": 341, "height": 224,
      "layer": [
        {
          "data": {"name": "D_curve"},
          "mark": {"type": "line", "interpolate": "step-after", "strokeWidth": 2},
          "encoding": {
            "x": {"field": "t", "type": "quantitative", "scale": {"domain": [0, 100], "nice": false, "zero": false}, "axis": {"values": [0,12,24,36,48,60,72,84,96], "title": "Time after surgery (months)"}},
            "y": {"field": "s", "type": "quantitative", "scale": {"domain": [0, 1.1], "nice": false}, "axis": {"values": [0,0.2,0.4,0.6,0.8,1], "format": ".1f", "title": ["Overall survival", "(proportion)"]}},
            "color": {"field": "g", "type": "nominal", "scale": {"domain": ["PD-L1 IC <1% (n = 127)", "PD-L1 IC ≥1% (n = 26)"], "range": ["#1a7896", "#e8392b"]}, "legend": {"title": null, "orient": "none", "legendX": 92, "legendY": -9.2}}
          }
        },
        {
          "data": {"name": "D_cens"},
          "mark": {"type": "point", "shape": "M0,0V-1", "size": 100, "filled": false, "strokeWidth": 1.5, "opacity": 1},
          "encoding": {"x": {"field": "t", "type": "quantitative"}, "y": {"field": "s", "type": "quantitative"}, "color": {"field": "g", "type": "nominal"}}
        },
        {
          "data": {"values": [{}]},
          "mark": {"type": "text", "align": "left", "baseline": "alphabetic", "fontSize": 21.5, "fontStyle": "italic", "color": "#231f20"},
          "encoding": {"x": {"datum": 3.4}, "y": {"datum": 0.044}, "text": {"value": "P = 0.489"}}
        },
        {
          "data": {"values": [{}]},
          "mark": {"type": "text", "align": "center", "baseline": "alphabetic", "fontSize": 26, "fontWeight": "bold", "color": "black"},
          "encoding": {"x": {"datum": -20.3}, "y": {"datum": 1.12}, "text": {"value": "D"}}
        }
      ]
    }
  ],
  "columns": 2,
  "bounds": "flush",
  "spacing": {"row": 101, "column": 139},
  "resolve": {"scale": {"color": "independent"}, "legend": {"color": "independent"}}
}
